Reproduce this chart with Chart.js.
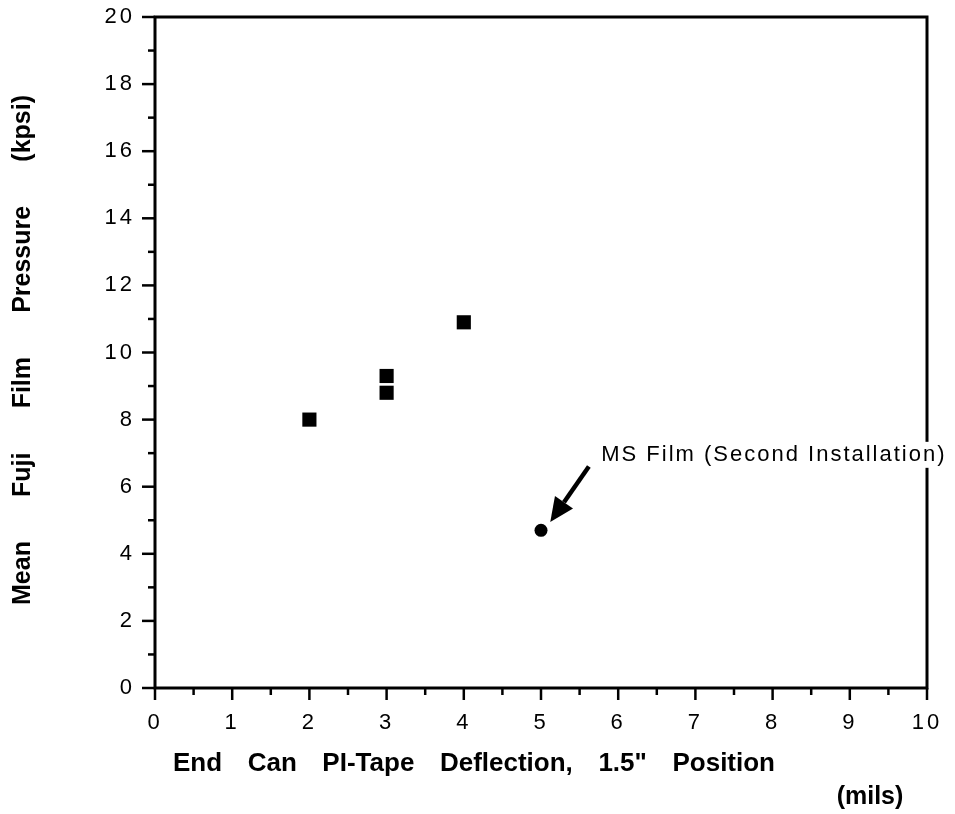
<!DOCTYPE html>
<html>
<head>
<meta charset="utf-8">
<script src="https://cdn.jsdelivr.net/npm/chart.js"></script>
<style>
html, body { margin: 0; padding: 0; background: #fff; }
canvas { display: block; }
</style>
</head>
<body>
<canvas id="grafico" width="955" height="814"></canvas>
<script>
// --- Datos ---
const deflexionCuadrados = [2, 3, 3, 4];
const presionCuadrados = [8.0, 9.3, 8.8, 10.9];
const deflexionCirculo = [5];
const presionCirculo = [4.7];
const etiquetasX = [0, 1, 2, 3, 4, 5, 6, 7, 8, 9, 10];
const etiquetasY = [0, 2, 4, 6, 8, 10, 12, 14, 16, 18, 20];

const tituloX = 'End Can PI-Tape Deflection, 1.5" Position';
const unidadX = '(mils)';
const tituloY = 'Mean Fuji Film Pressure (kpsi)';
const textoNota = 'MS Film (Second Installation)';

// posicion de la nota y la flecha, en unidades de los ejes
const notaPos = { x: 5.78, y: 6.95 };
const flechaDesde = { x: 5.62, y: 6.6 };
const flechaHasta = { x: 5.12, y: 4.95 };

const fuente = 'Liberation Sans, Arial, Helvetica, sans-serif';

function puntos(xs, ys) {
    return xs.map((x, i) => ({ x: x, y: ys[i] }));
}

// escribe el texto repartiendo los espacios entre palabras para ocupar "ancho"
function escribirAncho(ctx, texto, x, y, ancho) {
    ctx.letterSpacing = '0px';
    ctx.wordSpacing = '0px';
    const base = ctx.measureText(texto).width;
    const huecos = texto.split(' ').length - 1;
    if (huecos > 0) ctx.wordSpacing = ((ancho - base) / huecos) + 'px';
    ctx.fillText(texto, x, y);
    ctx.wordSpacing = '0px';
}

function sinRelleno(scale) {
    scale.paddingTop = 0;
    scale.paddingBottom = 0;
    scale.paddingLeft = 0;
    scale.paddingRight = 0;
}

// --- Espaciado de letras de las etiquetas de los ejes ---
const espaciado = {
    id: 'espaciado',
    beforeDraw(chart) {
        chart.ctx.letterSpacing = '3px';
    }
};

// --- Marco, marcas de los ejes, titulos y nota ---
const decorado = {
    id: 'decorado',
    afterDraw(chart) {
        const ctx = chart.ctx;
        const a = chart.chartArea;
        const sx = chart.scales.x;
        const sy = chart.scales.y;
        ctx.save();
        ctx.letterSpacing = '0px';
        ctx.strokeStyle = '#000';
        ctx.fillStyle = '#000';

        // marcas
        ctx.lineWidth = 2.5;
        sx.ticks.forEach(t => {
            const px = sx.getPixelForValue(t.value);
            const largo = etiquetasX.includes(t.value) ? 12 : 7;
            ctx.beginPath();
            ctx.moveTo(px, a.bottom);
            ctx.lineTo(px, a.bottom + largo);
            ctx.stroke();
        });
        sy.ticks.forEach(t => {
            const py = sy.getPixelForValue(t.value);
            const largo = etiquetasY.includes(t.value) ? 13 : 7;
            ctx.beginPath();
            ctx.moveTo(a.left, py);
            ctx.lineTo(a.left - largo, py);
            ctx.stroke();
        });

        // marco
        ctx.lineWidth = 3;
        ctx.strokeRect(a.left, a.top, a.right - a.left, a.bottom - a.top);

        // titulo eje x
        ctx.font = 'bold 26px ' + fuente;
        ctx.textAlign = 'center';
        ctx.textBaseline = 'middle';
        escribirAncho(ctx, tituloX, 474, 764, 602);
        ctx.font = 'bold 25px ' + fuente;
        ctx.fillText(unidadX, 870, 797);

        // titulo eje y
        ctx.save();
        ctx.translate(23, 350);
        ctx.rotate(-Math.PI / 2);
        escribirAncho(ctx, tituloY, 0, 0, 510);
        ctx.restore();

        // nota
        const nx = sx.getPixelForValue(notaPos.x);
        const ny = sy.getPixelForValue(notaPos.y);
        ctx.font = '22px ' + fuente;
        ctx.textAlign = 'left';
        ctx.letterSpacing = '2px';
        const ancho = ctx.measureText(textoNota).width;
        ctx.fillStyle = '#fff';
        ctx.fillRect(nx - 2, ny - 13, ancho + 2, 26);
        ctx.fillStyle = '#000';
        ctx.fillText(textoNota, nx, ny);
        ctx.letterSpacing = '0px';

        // flecha
        const x0 = sx.getPixelForValue(flechaDesde.x);
        const y0 = sy.getPixelForValue(flechaDesde.y);
        const x1 = sx.getPixelForValue(flechaHasta.x);
        const y1 = sy.getPixelForValue(flechaHasta.y);
        const ang = Math.atan2(y1 - y0, x1 - x0);
        const largoPunta = 24;
        const bx = x1 - largoPunta * Math.cos(ang);
        const by = y1 - largoPunta * Math.sin(ang);
        ctx.lineWidth = 4.5;
        ctx.beginPath();
        ctx.moveTo(x0, y0);
        ctx.lineTo(bx, by);
        ctx.stroke();
        ctx.beginPath();
        ctx.moveTo(x1, y1);
        ctx.lineTo(bx + 11 * Math.sin(ang), by - 11 * Math.cos(ang));
        ctx.lineTo(bx - 11 * Math.sin(ang), by + 11 * Math.cos(ang));
        ctx.closePath();
        ctx.fill();

        ctx.restore();
    }
};

new Chart(document.getElementById('grafico'), {
    type: 'scatter',
    data: {
        datasets: [
            {
                label: 'Fuji',
                data: puntos(deflexionCuadrados, presionCuadrados),
                pointStyle: 'rect',
                pointRadius: 10,
                backgroundColor: '#000',
                borderColor: '#000',
                borderWidth: 0
            },
            {
                label: 'MS Film',
                data: puntos(deflexionCirculo, presionCirculo),
                pointStyle: 'circle',
                pointRadius: 6.5,
                backgroundColor: '#000',
                borderColor: '#000',
                borderWidth: 0
            }
        ]
    },
    options: {
        responsive: false,
        animation: false,
        layout: { padding: { left: 0, top: 17, right: 28, bottom: 0 } },
        plugins: {
            legend: { display: false },
            tooltip: { enabled: false }
        },
        scales: {
            x: {
                type: 'linear',
                min: 0,
                max: 10,
                afterFit(scale) { scale.height = 126; sinRelleno(scale); },
                ticks: {
                    stepSize: 0.5,
                    autoSkip: false,
                    maxRotation: 0,
                    padding: 22,
                    color: '#000',
                    font: { family: fuente, size: 22 },
                    callback: v => etiquetasX.includes(v) ? String(v) : ''
                },
                grid: { display: false, drawTicks: false },
                border: { display: false }
            },
            y: {
                type: 'linear',
                min: 0,
                max: 20,
                afterFit(scale) { scale.width = 155; sinRelleno(scale); },
                ticks: {
                    stepSize: 1,
                    autoSkip: false,
                    padding: 20,
                    color: '#000',
                    font: { family: fuente, size: 22 },
                    callback: v => etiquetasY.includes(v) ? String(v) : ''
                },
                grid: { display: false, drawTicks: false },
                border: { display: false }
            }
        }
    },
    plugins: [espaciado, decorado]
});
</script>
</body>
</html>
